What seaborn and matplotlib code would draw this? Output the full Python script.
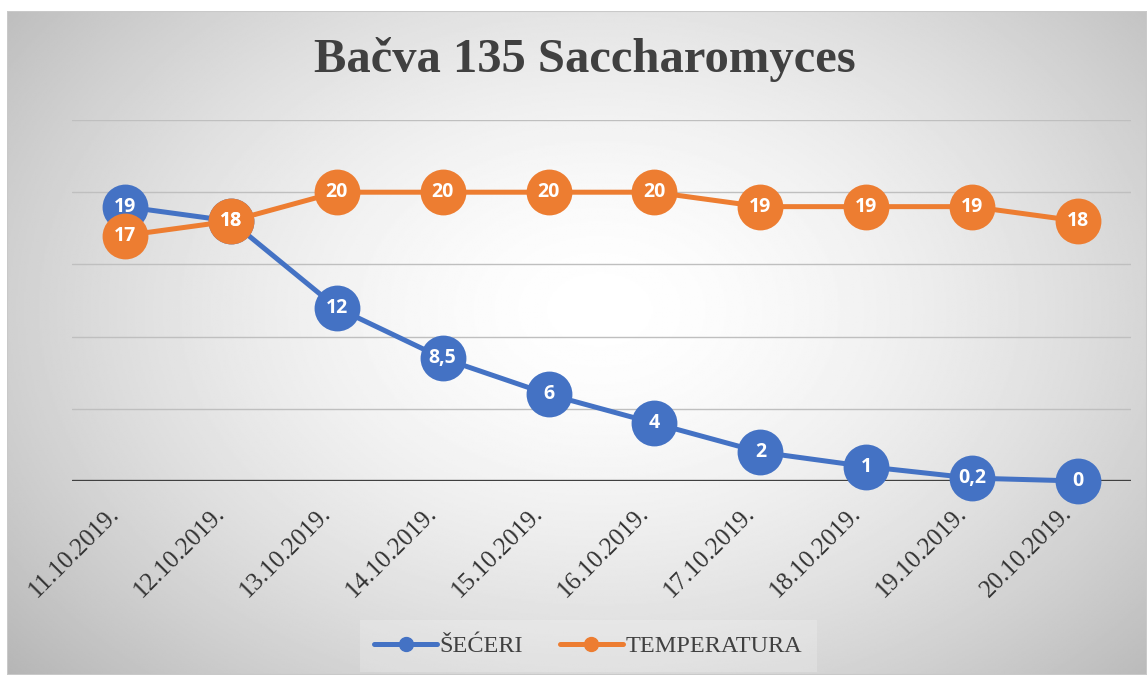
import numpy as np
import pandas as pd
import seaborn as sns
import matplotlib.pyplot as plt
import matplotlib.transforms as mtransforms
from matplotlib.lines import Line2D
from matplotlib.patches import Rectangle

dates = ["11.10.2019.", "12.10.2019.", "13.10.2019.", "14.10.2019.", "15.10.2019.",
         "16.10.2019.", "17.10.2019.", "18.10.2019.", "19.10.2019.", "20.10.2019."]
seceri = [19, 18, 12, 8.5, 6, 4, 2, 1, 0.2, 0]
temperatura = [17, 18, 20, 20, 20, 20, 19, 19, 19, 18]
series_names = ["ŠEĆERI", "TEMPERATURA"]
colors = ["#4472C4", "#ED7D31"]

sns.set_theme(style="white")
plt.rcParams['font.family'] = ['Liberation Serif', 'DejaVu Serif']

fig = plt.figure(figsize=(11.47, 6.75), dpi=100)

# radial gradient chart background
bg = fig.add_axes([7 / 1147, 0, 1 - 7 / 1147, 1 - 11 / 675], zorder=-10)
yy, xx = np.mgrid[0:1:400j, 0:1:700j]
r = np.sqrt(((xx - 0.52) / 0.62) ** 2 + ((yy - 0.45) / 0.75) ** 2)
img = 255 - 62 * np.clip(r, 0, 1.3) ** 1.6
bg.imshow(img, cmap="gray", vmin=0, vmax=255, aspect="auto", extent=[0, 1, 0, 1], origin="upper")
bg.add_patch(Rectangle((0, 0), 1, 1, fill=False, edgecolor="#c9c9c9", lw=1.5, transform=bg.transAxes))
bg.set_axis_off()

ax = fig.add_axes([72 / 1147, 1 - 481 / 675, (1131 - 72) / 1147, (481 - 120) / 675])
ax.patch.set_alpha(0)

df = pd.DataFrame({"date": dates, "ŠEĆERI": seceri, "TEMPERATURA": temperatura})
for name, col in zip(series_names, colors):
    sns.lineplot(data=df, x="date", y=name, ax=ax, color=col, lw=3.6, marker="o",
                 markersize=33, markeredgewidth=0, sort=False, zorder=3, clip_on=False)
    for i, v in enumerate(df[name]):
        lab = f"{v:g}".replace(".", ",")
        ax.text(i, v, lab, ha="center", va="center", color="white", fontsize=14,
                fontweight="bold", family=["Open Sans", "DejaVu Sans"], zorder=5)

ax.set_xlim(-0.5, 9.5)
ax.set_ylim(0, 25)
ax.set_yticks([0, 5, 10, 15, 20, 25])
ax.yaxis.grid(True, color="#bfbfbf", lw=1)
ax.set_axisbelow(True)
ax.set_yticklabels([])
ax.tick_params(axis="y", length=0)
ax.axhline(0, color="#404040", lw=2.4, zorder=2)
for s in ax.spines.values():
    s.set_visible(False)
ax.set_xlabel("")
ax.set_ylabel("")
ax.set_xticks(range(len(dates)))
ax.set_xticklabels(dates, rotation=45, ha="right", va="top", rotation_mode="anchor",
                   fontsize=18, color="#333333")
ax.tick_params(axis="x", length=0, pad=14)
offset = mtransforms.ScaledTranslation(-0.17, -0.02, fig.dpi_scale_trans)
for lbl in ax.get_xticklabels():
    lbl.set_transform(lbl.get_transform() + offset)

fig.text(0.51, 1 - 60 / 675, "Bačva 135 Saccharomyces", ha="center", va="center",
         fontsize=35, fontweight="bold", color="#404040")

handles = [Line2D([], [], color=c, lw=3.6, marker="o", markersize=10) for c in colors]
leg = fig.legend(handles, series_names, loc="center", bbox_to_anchor=(588 / 1147, 1 - 646 / 675),
                 ncol=2, frameon=True, fontsize=17.5, handlelength=2.6, handletextpad=0.1,
                 columnspacing=1.5, labelcolor="#404040")
leg.get_frame().set_facecolor("white")
leg.get_frame().set_alpha(0.2)
leg.get_frame().set_edgecolor("none")
leg.get_frame().set_boxstyle("square", pad=0.2)

fig.savefig("out.png", dpi=100)
